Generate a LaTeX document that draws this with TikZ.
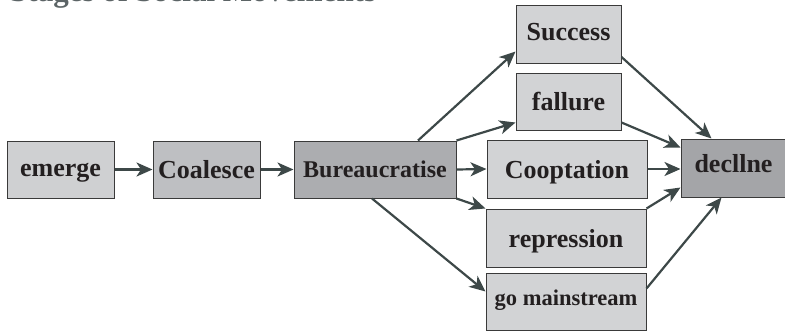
\documentclass[tikz,border=0pt]{standalone}
\usepackage{fontspec}
\setmainfont{Liberation Serif}
\usetikzlibrary{arrows.meta,calc}
\definecolor{edgec}{HTML}{3D4848}
\definecolor{boxline}{HTML}{3A3A3A}
\definecolor{txt}{HTML}{231F20}
\definecolor{fEm}{HTML}{CFD0D2}
\definecolor{fCo}{HTML}{BEBFC2}
\definecolor{fBu}{HTML}{ACADB0}
\definecolor{fRt}{HTML}{D2D3D5}
\definecolor{fDe}{HTML}{A4A5A8}
\definecolor{titlec}{HTML}{5C6466}
\begin{document}
\begin{tikzpicture}[x=1pt,y=-1pt,
  box/.style={draw=boxline,line width=1pt,inner sep=0pt,text=txt,text depth=0pt,
    font=\fontsize{26}{28}\selectfont\bfseries},
  titlestyle/.style={inner sep=0pt,text=titlec,font=\fontsize{31}{33}\selectfont\bfseries},
  conn/.style={draw=edgec,line width=2.2pt,-{Stealth[length=16pt,width=14pt,inset=4.5pt]}}]
\useasboundingbox (0,0) rectangle (785,333);
\clip (0,0) rectangle (785,333);
\node[titlestyle,anchor=base west] (title) at (10,1) {Stages of Social Movements};
\node[box,fill=fEm,minimum width=107pt,minimum height=57pt] (em) at (60.5,169.5) {emerge\hspace{6pt}};
\node[box,fill=fCo,minimum width=107pt,minimum height=57pt] (co) at (206.5,169.5) {Coalesce};
\node[box,fill=fBu,minimum width=162pt,minimum height=57pt,font=\fontsize{24}{26}\selectfont\bfseries] (bu) at (375,169.5) {Bureaucratise};
\node[box,fill=fRt,minimum width=105pt,minimum height=58pt,text depth=5pt] (su) at (568.5,34) {Success\hspace{6pt}};
\node[box,fill=fRt,minimum width=105pt,minimum height=57pt] (fa) at (568.5,101.5) {fallure};
\node[box,fill=fRt,minimum width=160pt,minimum height=58pt] (cp) at (567,169) {Cooptation};
\node[box,fill=fRt,minimum width=160pt,minimum height=58pt] (rp) at (566,238) {repression\hspace{12pt}};
\node[box,fill=fRt,minimum width=160pt,minimum height=57pt,text depth=8pt,font=\fontsize{22.5}{24}\selectfont\bfseries] (gm) at (566,301.5) {go mainstream};
\node[box,fill=fDe,minimum width=105pt,minimum height=58pt,text depth=10pt] (de) at (733.5,168) {decllne};
\draw[conn] (em.east) -- (co.west);
\draw[conn] (co.east) -- (bu.west);
\draw[conn] ($(bu.north)+(43,0)$) -- ($(su.south west)+(0,-12)$);
\draw[conn] (bu.north east) -- ($(fa.south west)+(0,-8)$);
\draw[conn] (bu.east) -- (cp.west);
\draw[conn] (bu.south east) -- (rp.north west);
\draw[conn] ($(bu.south)+(-3,0)$) -- ($(gm.west)+(0,-10)$);
\draw[conn] ($(su.east)+(0,23)$) -- ($(de.north west)+(31,0)$);
\draw[conn] ($(fa.east)+(0,21)$) -- ($(de.north west)+(0,9)$);
\draw[conn] (cp.east) -- (cp.east -| de.west);
\draw[conn] (rp.north east) -- ($(de.south west)+(0,-10)$);
\draw[conn] ($(gm.east)+(0,-13)$) -- ($(de.south)+(-12,0)$);
\end{tikzpicture}
\end{document}
